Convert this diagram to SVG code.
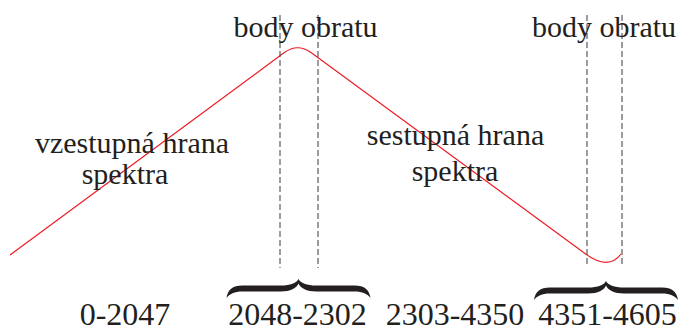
<svg xmlns="http://www.w3.org/2000/svg" xmlns:xlink="http://www.w3.org/1999/xlink" width="678" height="329" viewBox="0 0 678 329">
  <style>
    .lbl { font-family: "Liberation Serif", "Times New Roman", serif; font-size: 30px; fill: #231f20; text-anchor: middle; }
    .num { font-family: "Liberation Serif", "Times New Roman", serif; font-size: 32px; fill: #231f20; text-anchor: middle; }
    .guide { stroke: #3a3a3a; stroke-width: 1; stroke-dasharray: 6 3; fill: none; }
    .spectrum { stroke: #ee1c24; stroke-width: 1.2; fill: none; }
    .brace { fill: #231f20; }
  </style>
  <defs>
    <!-- horizontal curly brace, tip at the origin, pointing up -->
    <path id="brace" class="brace" d="M -72 19 C -71 11, -66 6.5, -56 6.5 L -18 6.5 C -8 6.5, -2 4, 0 0 C 2 4, 8 6.5, 18 6.5 L 56 6.5 C 66 6.5, 71 11, 72 19 C 69 15, 64 12.5, 56 12.5 L 18 12.5 C 8 12.5, 2 9, 0 4.5 C -2 9, -8 12.5, -18 12.5 L -56 12.5 C -64 12.5, -69 15, -72 19 Z"/>
  </defs>

  <!-- spectrum curve: rising edge, rounded peak, falling edge, rounded trough -->
  <g id="spectrum">
    <path class="spectrum" d="M 10 255 L 284 52.8 Q 297.5 42.8 311 52.6 L 585 253.6 Q 608.6 271 621 254"/>
  </g>

  <!-- dashed guides bounding the turning points -->
  <g id="connectors">
    <line class="guide" x1="280" y1="15" x2="280" y2="268"/>
    <line class="guide" x1="318" y1="15" x2="318" y2="268"/>
    <line class="guide" x1="587" y1="15" x2="587" y2="267"/>
    <line class="guide" x1="622" y1="15" x2="622" y2="267"/>
  </g>

  <g id="label-peak">
    <text class="lbl" x="305.5" y="37">body obratu</text>
  </g>
  <g id="label-trough">
    <text class="lbl" x="604" y="37">body obratu</text>
  </g>
  <g id="label-rising">
    <text class="lbl" x="132" y="153">vzestupná hrana</text>
    <text class="lbl" x="125" y="183.5">spektra</text>
  </g>
  <g id="label-falling">
    <text class="lbl" x="455.5" y="145">sestupná hrana</text>
    <text class="lbl" x="455" y="180.5">spektra</text>
  </g>

  <g id="brace-peak">
    <use xlink:href="#brace" href="#brace" transform="translate(298.5 279)"/>
  </g>
  <g id="brace-trough">
    <use xlink:href="#brace" href="#brace" transform="translate(606 281)"/>
  </g>

  <g id="ranges">
    <text class="num" x="125" y="325">0-2047</text>
    <text class="num" x="297.5" y="325">2048-2302</text>
    <text class="num" x="455" y="324.5">2303-4350</text>
    <text class="num" x="607.5" y="325">4351-4605</text>
  </g>
</svg>
